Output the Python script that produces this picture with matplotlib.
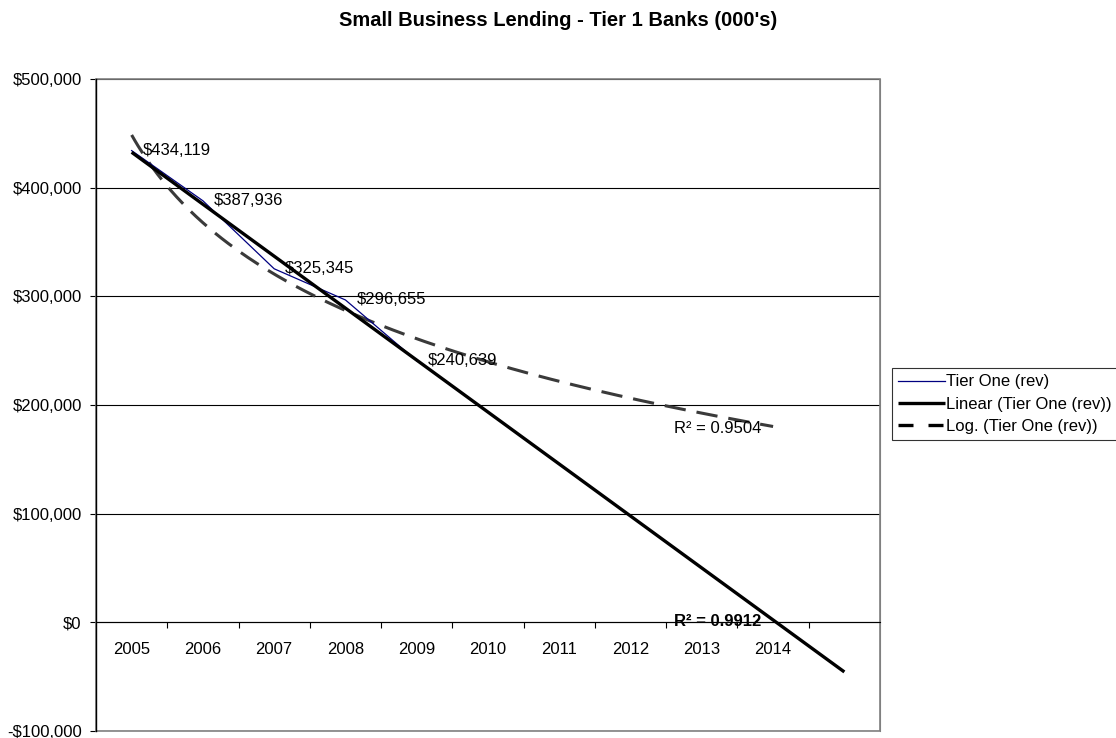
import numpy as np
import matplotlib
matplotlib.use("Agg")
import matplotlib.pyplot as plt
from matplotlib.patches import Rectangle
from matplotlib.ticker import FuncFormatter, FixedLocator

plt.rcParams['font.family'] = ['Liberation Sans', 'DejaVu Sans']

categories = ['2005', '2006', '2007', '2008', '2009', '2010', '2011', '2012', '2013', '2014', '']
tier_one = [434119, 387936, 325345, 296655, 240639]
data_labels = ['$434,119', '$387,936', '$325,345', '$296,655', '$240,639']
r2_linear = '0.9912'
r2_log = '0.9504'
y_ticks = [-100000, 0, 100000, 200000, 300000, 400000, 500000]

fig = plt.figure(figsize=(11.16, 7.38), dpi=100)
ax = fig.add_axes([96/1116, 1-731/738, (880-96)/1116, (731-79)/738])

n_cat = len(categories)
xc = np.arange(1, n_cat + 1)
xd = np.arange(1, len(tier_one) + 1)
yd = np.array(tier_one, dtype=float)

# Trendlines computed from the data
lin = np.polyfit(xd, yd, 1)
x_lin = np.array([1, n_cat], dtype=float)
lg = np.polyfit(np.log(xd), yd, 1)
x_log = np.linspace(1, 10, 200)

ax.plot(xd, yd, color='#000080', lw=0.9, zorder=3, label='Tier One (rev)')
ax.plot(x_lin, np.polyval(lin, x_lin), color='black', lw=2.4, zorder=4,
        label='Linear (Tier One (rev))', solid_capstyle='butt')
ax.plot(x_log, lg[0]*np.log(x_log) + lg[1], color='#3a3a3a', lw=2.2, zorder=2,
        dashes=(7.0, 3.6), label='Log. (Tier One (rev))')

for x, y, t in zip(xd, yd, data_labels):
    ax.annotate(t, (x, y), xytext=(11, 0), textcoords='offset pixels',
                ha='left', va='center', fontsize=12, zorder=6)

ax.text(8.61, 178000, 'R² = ' + r2_log, fontsize=12, ha='left', va='center', zorder=6)
ax.text(8.61, 1000, 'R² = ' + r2_linear, fontsize=12, fontweight='bold', ha='left', va='center', zorder=6)

ax.set_xlim(0.5, n_cat + 0.5)
ax.set_ylim(-100000, 500000)

# y axis
ax.set_yticks(y_ticks)
ax.yaxis.set_major_formatter(FuncFormatter(lambda v, p: ('-$' if v < 0 else '$') + f'{abs(int(v)):,}'))
ax.tick_params(axis='y', direction='out', length=4.3, width=0.8, labelsize=12, pad=6)
ax.yaxis.grid(True, color='#000000', lw=0.8, zorder=0)
ax.set_axisbelow(True)

# x axis at zero
ax.spines['bottom'].set_position(('data', 0))
ax.spines['bottom'].set_color('#000000')
ax.spines['bottom'].set_linewidth(0.8)
ax.xaxis.set_major_locator(FixedLocator(np.arange(1.5, n_cat, 1.0)))
ax.xaxis.set_minor_locator(FixedLocator(xc))
ax.set_xticklabels([], minor=False)
ax.set_xticklabels(categories, minor=True)
ax.tick_params(axis='x', which='major', direction='out', length=4, width=0.8)
ax.tick_params(axis='x', which='minor', length=0, labelsize=12, pad=14)

ax.spines['left'].set_color('black')
ax.spines['left'].set_linewidth(1.0)
ax.spines['top'].set_visible(False)
ax.spines['right'].set_color('#808080')
ax.add_patch(Rectangle((0, 0), 1, 1, transform=ax.transAxes, fill=False,
                       edgecolor='#808080', lw=1.2, clip_on=False, zorder=1))

fig.text(0.5, 1-21/738, "Small Business Lending - Tier 1 Banks (000's)",
         ha='center', va='center', fontsize=14.5, fontweight='bold')

handles, labels = ax.get_legend_handles_labels()
handles[2] = plt.Line2D([], [], color='black', lw=2.4, dashes=(4.5, 4.5))
leg = fig.legend(handles, labels, loc='upper left', bbox_to_anchor=(892/1116, 1-368/738),
                 frameon=True, fancybox=False, edgecolor='black', fontsize=12,
                 handlelength=2.8, handletextpad=0.05, labelspacing=0.43,
                 borderpad=0.38, borderaxespad=0)
leg.get_frame().set_linewidth(0.8)

fig.savefig('out.png', dpi=100)
